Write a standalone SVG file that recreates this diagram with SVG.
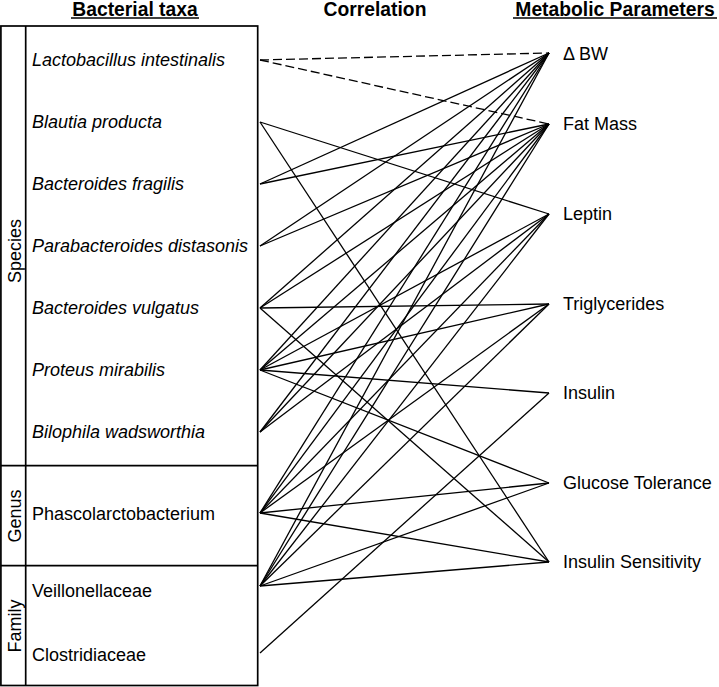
<svg xmlns="http://www.w3.org/2000/svg" width="719" height="687" viewBox="0 0 719 687">
<style>
text{font-family:"Liberation Sans",Arial,sans-serif;fill:#000}
.h{font-size:19.3px;font-weight:bold}
.t{font-size:18px}
.i{font-style:italic}
.box{fill:none;stroke:#000;stroke-width:1.7}
.c line{stroke:#000;stroke-width:1.3}
.c .d{stroke-dasharray:9 4}
.u{stroke:#000;stroke-width:1.6}
</style>
<rect width="719" height="687" fill="#fff"/>
<g id="headers">
<text class="h" x="135" y="16" text-anchor="middle">Bacterial taxa</text>
<line class="u" x1="71" y1="18" x2="199" y2="18"/>
<text class="h" x="375" y="16" text-anchor="middle">Correlation</text>
<text class="h" x="615" y="16" text-anchor="middle">Metabolic Parameters</text>
<line class="u" x1="513" y1="18" x2="717" y2="18"/>
</g>
<g id="taxa-box">
<rect class="box" x="0.9" y="26" width="256.8" height="659.5"/>
<line class="box" x1="25.7" y1="26" x2="25.7" y2="685.5"/>
<line class="box" x1="0.9" y1="465.7" x2="257.7" y2="465.7"/>
<line class="box" x1="0.9" y1="565.7" x2="257.7" y2="565.7"/>
<text class="t" transform="translate(20.5,251) rotate(-90)" text-anchor="middle">Species</text>
<text class="t" transform="translate(20.5,516) rotate(-90)" text-anchor="middle">Genus</text>
<text class="t" transform="translate(20.5,626) rotate(-90)" text-anchor="middle">Family</text>
</g>
<g id="taxon-lactobacillus"><text class="t i" x="32" y="66">Lactobacillus intestinalis</text></g>
<g id="taxon-blautia"><text class="t i" x="32" y="128">Blautia producta</text></g>
<g id="taxon-bfragilis"><text class="t i" x="32" y="190">Bacteroides  fragilis</text></g>
<g id="taxon-parabacteroides"><text class="t i" x="32" y="252">Parabacteroides distasonis</text></g>
<g id="taxon-bvulgatus"><text class="t i" x="32" y="314">Bacteroides vulgatus</text></g>
<g id="taxon-proteus"><text class="t i" x="32" y="376">Proteus mirabilis</text></g>
<g id="taxon-bilophila"><text class="t i" x="32" y="438">Bilophila wadsworthia</text></g>
<g id="taxon-phascolarctobacterium"><text class="t" x="32" y="520">Phascolarctobacterium</text></g>
<g id="taxon-veillonellaceae"><text class="t" x="32" y="597">Veillonellaceae</text></g>
<g id="taxon-clostridiaceae"><text class="t" x="32" y="661">Clostridiaceae</text></g>
<g id="param-bw"><text class="t" x="563" y="60">Δ BW</text></g>
<g id="param-fatmass"><text class="t" x="563" y="130">Fat Mass</text></g>
<g id="param-leptin"><text class="t" x="563" y="220">Leptin</text></g>
<g id="param-triglycerides"><text class="t" x="563" y="310">Triglycerides</text></g>
<g id="param-insulin"><text class="t" x="563" y="399">Insulin</text></g>
<g id="param-glucose"><text class="t" x="563" y="489">Glucose Tolerance</text></g>
<g id="param-sensitivity"><text class="t" x="563" y="568">Insulin Sensitivity</text></g>
<g id="connectors" class="c">
<line class="d" x1="260" y1="60" x2="549" y2="53"/>
<line class="d" x1="260" y1="60" x2="549" y2="124"/>
<line x1="260" y1="122" x2="549" y2="214"/>
<line x1="260" y1="122" x2="549" y2="562"/>
<line x1="260" y1="184" x2="549" y2="53"/>
<line x1="260" y1="184" x2="549" y2="124"/>
<line x1="260" y1="246" x2="549" y2="53"/>
<line x1="260" y1="246" x2="549" y2="124"/>
<line x1="260" y1="308" x2="549" y2="53"/>
<line x1="260" y1="308" x2="549" y2="124"/>
<line x1="260" y1="308" x2="549" y2="304"/>
<line x1="260" y1="308" x2="549" y2="562"/>
<line x1="260" y1="370" x2="549" y2="53"/>
<line x1="260" y1="370" x2="549" y2="124"/>
<line x1="260" y1="370" x2="549" y2="214"/>
<line x1="260" y1="370" x2="549" y2="304"/>
<line x1="260" y1="370" x2="549" y2="393"/>
<line x1="260" y1="370" x2="549" y2="483"/>
<line x1="260" y1="432" x2="549" y2="53"/>
<line x1="260" y1="432" x2="549" y2="124"/>
<line x1="260" y1="432" x2="549" y2="214"/>
<line x1="260" y1="513" x2="549" y2="53"/>
<line x1="260" y1="513" x2="549" y2="124"/>
<line x1="260" y1="513" x2="549" y2="214"/>
<line x1="260" y1="513" x2="549" y2="304"/>
<line x1="260" y1="513" x2="549" y2="483"/>
<line x1="260" y1="513" x2="549" y2="562"/>
<line x1="260" y1="586" x2="549" y2="53"/>
<line x1="260" y1="586" x2="549" y2="124"/>
<line x1="260" y1="586" x2="549" y2="214"/>
<line x1="260" y1="586" x2="549" y2="304"/>
<line x1="260" y1="586" x2="549" y2="483"/>
<line x1="260" y1="586" x2="549" y2="562"/>
<line x1="260" y1="653" x2="549" y2="393"/>
</g>
</svg>
